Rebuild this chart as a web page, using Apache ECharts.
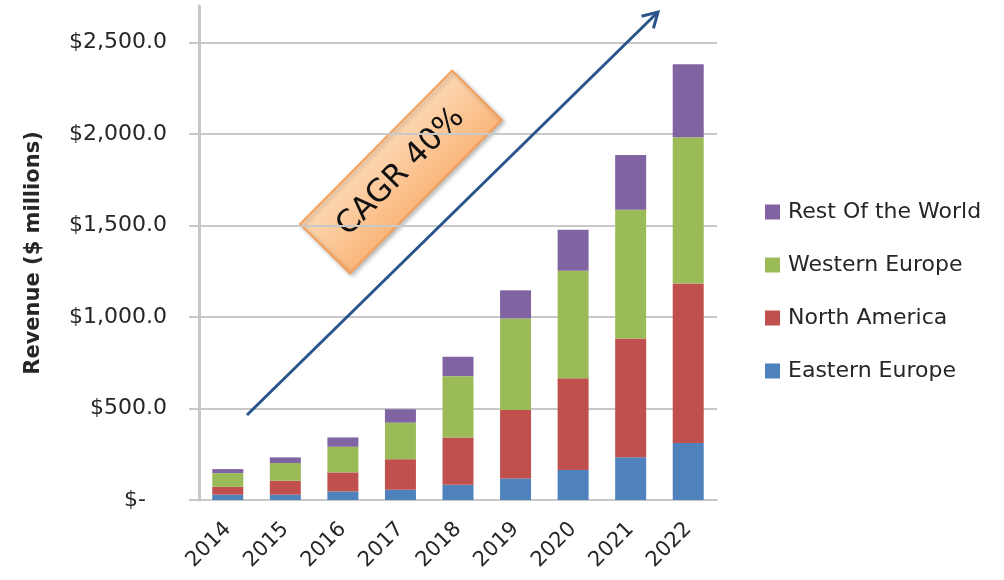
<!DOCTYPE html>
<html>
<head>
<meta charset="utf-8">
<script src="https://cdn.jsdelivr.net/npm/echarts@6/dist/echarts.min.js"></script>
<style>
html,body{margin:0;padding:0;background:#fff;}
#chart{width:1004px;height:580px;}
</style>
</head>
<body>
<div id="chart"></div>
<script>
const years = ['2014','2015','2016','2017','2018','2019','2020','2021','2022'];
const easternEurope = [29, 29, 47, 56, 83, 118, 164, 233, 311];
const northAmerica  = [43, 76, 104, 167, 259, 374, 501, 650, 872];
const westernEurope = [75, 97, 140, 200, 335, 500, 588, 703, 799];
const restOfWorld   = [22, 31, 51, 73, 106, 154, 224, 300, 400];
const seriesNames = ['Eastern Europe', 'North America', 'Western Europe', 'Rest Of the World'];
const yTicks = [0, 500, 1000, 1500, 2000, 2500];
const annotationText = 'CAGR 40%';
const axisTitle = 'Revenue ($ millions)';

const FONT = 'DejaVu Sans';
const colors = ['#4f81bd', '#c0504d', '#9bbb59', '#8064a2'];
const seriesData = [easternEurope, northAmerica, westernEurope, restOfWorld];

const chart = echarts.init(document.getElementById('chart'), null, {renderer: 'canvas'});

function fmt(v) {
  if (v === 0) return '$-   ';
  if (yTicks.indexOf(v) < 0) return '';
  return '$' + v.toLocaleString('en-US', {minimumFractionDigits: 1, maximumFractionDigits: 1});
}

// arrow geometry (annotation)
const aStart = [247, 415], aEnd = [658, 12];
const ang = Math.atan2(aEnd[1] - aStart[1], aEnd[0] - aStart[0]);
const headLen = 17, headAng = Math.PI / 6;
const h1 = [aEnd[0] - headLen * Math.cos(ang - headAng), aEnd[1] - headLen * Math.sin(ang - headAng)];
const h2 = [aEnd[0] - headLen * Math.cos(ang + headAng), aEnd[1] - headLen * Math.sin(ang + headAng)];

const gridLines = yTicks.filter(v => v > 0).map(v => ({yAxis: v}));

const option = {
  animation: false,
  backgroundColor: '#ffffff',
  textStyle: {fontFamily: FONT},
  grid: {left: 199, right: 287, top: 6, bottom: 80, containLabel: false, outerBoundsMode: 'none'},
  legend: {
    orient: 'vertical',
    left: 760,
    top: 196,
    itemWidth: 15,
    itemHeight: 15,
    itemGap: 31,
    icon: 'rect',
    data: seriesNames.slice().reverse(),
    textStyle: {fontFamily: FONT, fontSize: 22, color: '#262626', padding: [0, 0, 0, 3]}
  },
  xAxis: {
    type: 'category',
    data: years,
    axisLine: {show: true, lineStyle: {color: '#c8c8c8', width: 2}},
    axisTick: {show: false},
    axisLabel: {rotate: 45, fontFamily: FONT, fontSize: 21, color: '#262626', margin: 26, interval: 0}
  },
  yAxis: {
    type: 'value',
    min: 0,
    max: 2700,
    interval: 500,
    name: axisTitle,
    nameLocation: 'middle',
    nameGap: 155,
    nameTextStyle: {fontFamily: FONT, fontSize: 21, fontWeight: 'bold', color: '#262626'},
    axisLine: {show: true, lineStyle: {color: '#c8c8c8', width: 3}},
    axisTick: {show: true, length: 10, lineStyle: {color: '#c8c8c8', width: 2}, customValues: yTicks},
    axisLabel: {fontFamily: FONT, fontSize: 22, color: '#262626', margin: 32, formatter: fmt, customValues: yTicks},
    splitLine: {show: false}
  },
  series: seriesNames.map((n, i) => ({
    name: n,
    type: 'bar',
    stack: 'total',
    barWidth: 31,
    itemStyle: {color: colors[i]},
    data: seriesData[i],
    markLine: i === 0 ? {
      silent: true,
      symbol: ['none', 'none'],
      label: {show: false},
      lineStyle: {color: '#c8c8c8', width: 2, type: 'solid'},
      z: 0,
      data: gridLines
    } : undefined
  })),
  graphic: [
    {
      type: 'line',
      z: 100,
      shape: {x1: aStart[0], y1: aStart[1], x2: aEnd[0], y2: aEnd[1]},
      style: {stroke: '#2a558a', lineWidth: 3}
    },
    {
      type: 'polyline',
      z: 100,
      shape: {points: [h1, aEnd, h2]},
      style: {stroke: '#2a558a', lineWidth: 3, fill: null}
    },
    {
      type: 'group',
      x: 401,
      y: 172,
      rotation: 0.79,
      z: 100,
      children: [
        {
          type: 'rect',
          shape: {x: -108, y: -35, width: 216, height: 70},
          style: {
            fill: new echarts.graphic.LinearGradient(0, 0, 0, 1, [
              {offset: 0, color: '#fdd9b5'},
              {offset: 1, color: '#f9b67a'}
            ]),
            stroke: '#f4a05a',
            lineWidth: 2,
            shadowBlur: 4,
            shadowOffsetX: 2,
            shadowOffsetY: 2,
            shadowColor: 'rgba(0,0,0,0.25)'
          }
        },
        {
          type: 'text',
          style: {
            text: annotationText,
            x: 0, y: 0,
            align: 'center',
            verticalAlign: 'middle',
            fontFamily: FONT,
            fontSize: 31,
            fill: '#111111'
          }
        }
      ]
    }
  ]
};
chart.setOption(option);
</script>
</body>
</html>
